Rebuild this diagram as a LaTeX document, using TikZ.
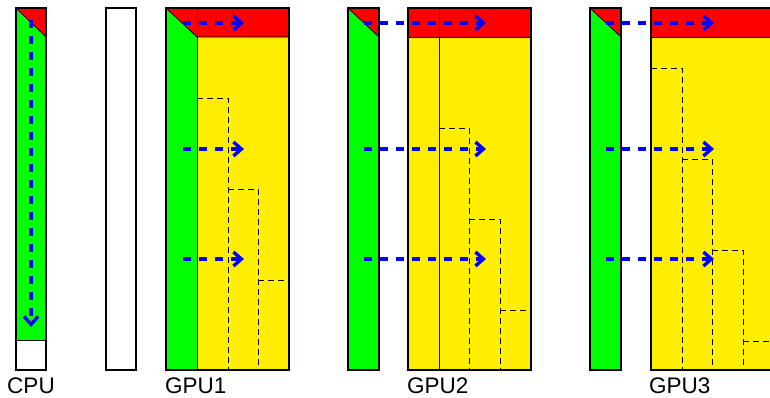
\documentclass[tikz,border=0pt]{standalone}
\usepackage{fontspec}
\setmainfont{Liberation Sans}
\usetikzlibrary{arrows.meta}
\definecolor{myred}{RGB}{255,0,0}
\definecolor{mygreen}{RGB}{0,255,0}
\definecolor{myyellow}{RGB}{255,238,0}
\definecolor{myblue}{RGB}{0,0,255}
\begin{document}
\begin{tikzpicture}[x=1pt,y=-1pt,
  frame/.style={draw=black,line width=2.5pt},
  thinline/.style={draw=black,line width=0.8pt},
  stair/.style={draw=black,line width=0.8pt,dash pattern=on 6pt off 4pt},
  flow/.style={draw=myblue,line width=3.4pt,dash pattern=on 8pt off 8pt,-{Straight Barb[length=8pt,width=14pt,line width=3.4pt]}},
  lbl/.style={font=\fontsize{22.5}{26}\selectfont,inner sep=0pt}]
\useasboundingbox (0,0) rectangle (770,397);

% ---------- CPU ----------
\fill[mygreen] (16,8) rectangle (46,340);
\fill[white] (16,340) rectangle (46,370);
\fill[myred] (16,8) -- (46,8) -- (46,37) -- cycle;
\draw[thinline] (16,8) -- (46,37);
\draw[thinline] (16,340) -- (46,340);
\draw[frame] (16,8) rectangle (46,370);
\coordinate (c1) at (31,20);
\coordinate (c2) at (31,327);
\draw[flow] (c1) -- (c2);
\node[lbl,anchor=base] (cpu) at (31,393) {CPU};

% ---------- empty buffer ----------
\draw[frame] (106,8) rectangle (136,370);

% ---------- GPU1 ----------
\fill[myyellow] (166,8) rectangle (289,370);
\fill[mygreen] (166,8) rectangle (197,370);
\fill[myred] (166,8) -- (289,8) -- (289,37) -- (197,37) -- cycle;
\draw[thinline] (166,8) -- (197,37) -- (289,37);
\draw[thinline] (197,8) -- (197,370);
\draw[stair] (197,98) -- (228,98) -- (228,370);
\draw[stair] (228,189) -- (258,189) -- (258,370);
\draw[stair] (258,280) -- (289,280);
\draw[frame] (166,8) rectangle (289,370);
\coordinate (a1s) at (183,23);  \coordinate (a1e) at (244,23);
\coordinate (a2s) at (183,149); \coordinate (a2e) at (244,149);
\coordinate (a3s) at (183,259); \coordinate (a3e) at (244,259);
\draw[flow] (a1s) -- (a1e);
\draw[flow] (a2s) -- (a2e);
\draw[flow] (a3s) -- (a3e);
\node[lbl,anchor=base west] (gpu1) at (165,393) {GPU1};

% ---------- GPU2 ----------
\fill[mygreen] (348,8) rectangle (379,370);
\fill[myred] (348,8) -- (379,8) -- (379,37) -- cycle;
\draw[thinline] (348,8) -- (379,37);
\draw[frame] (348,8) rectangle (379,370);
\fill[myyellow] (408,8) rectangle (531,370);
\fill[myred] (408,8) rectangle (531,37);
\draw[thinline] (408,37) -- (531,37);
\draw[thinline] (439,8) -- (439,370);
\draw[stair] (439,128) -- (469,128) -- (469,370);
\draw[stair] (469,219) -- (500,219) -- (500,370);
\draw[stair] (500,310) -- (531,310);
\draw[frame] (408,8) rectangle (531,370);
\coordinate (b1s) at (364,23);  \coordinate (b1e) at (486,23);
\coordinate (b2s) at (364,149); \coordinate (b2e) at (486,149);
\coordinate (b3s) at (364,259); \coordinate (b3e) at (486,259);
\draw[flow] (b1s) -- (b1e);
\draw[flow] (b2s) -- (b2e);
\draw[flow] (b3s) -- (b3e);
\node[lbl,anchor=base west] (gpu2) at (407,393) {GPU2};

% ---------- GPU3 ----------
\fill[mygreen] (590,8) rectangle (621,370);
\fill[myred] (590,8) -- (621,8) -- (621,37) -- cycle;
\draw[thinline] (590,8) -- (621,37);
\draw[frame] (590,8) rectangle (621,370);
\fill[myyellow] (651,8) rectangle (774,370);
\fill[myred] (651,8) rectangle (774,37);
\draw[thinline] (651,37) -- (774,37);
\draw[stair] (651,68) -- (682,68) -- (682,370);
\draw[stair] (682,159) -- (712,159) -- (712,370);
\draw[stair] (712,250) -- (743,250) -- (743,370);
\draw[stair] (743,341) -- (774,341);
\draw[frame] (651,8) rectangle (774,370);
\coordinate (d1s) at (606,23);  \coordinate (d1e) at (714,23);
\coordinate (d2s) at (606,149); \coordinate (d2e) at (714,149);
\coordinate (d3s) at (606,259); \coordinate (d3e) at (714,259);
\draw[flow] (d1s) -- (d1e);
\draw[flow] (d2s) -- (d2e);
\draw[flow] (d3s) -- (d3e);
\node[lbl,anchor=base west] (gpu3) at (649,393) {GPU3};
\end{tikzpicture}
\end{document}
